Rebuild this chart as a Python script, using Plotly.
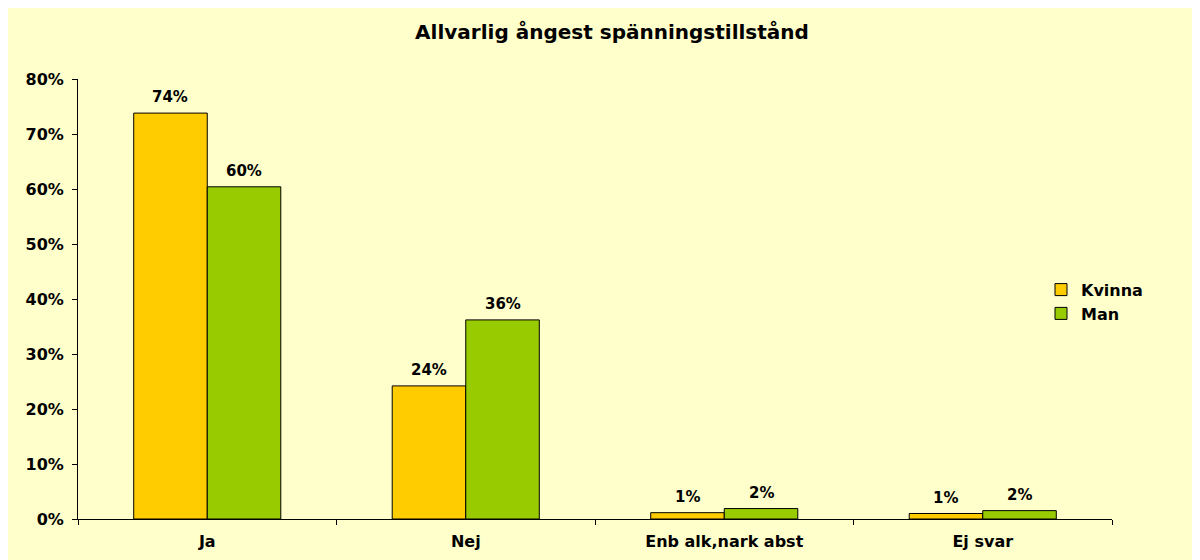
import plotly.graph_objects as go

categories = ["Ja", "Nej", "Enb alk,nark abst", "Ej svar"]
kvinna = [0.738, 0.242, 0.0115, 0.010]
man = [0.604, 0.362, 0.019, 0.0152]
series_names = ["Kvinna", "Man"]
tick_vals = [0, 0.1, 0.2, 0.3, 0.4, 0.5, 0.6, 0.7, 0.8]
title_text = "Allvarlig ångest spänningstillstånd"

FONT = "DejaVu Sans"
BG = "#FFFFCC"
colors = ["#FFCC00", "#99CC00"]

fig = go.Figure()
for name, vals, col in zip(series_names, [kvinna, man], colors):
    fig.add_trace(go.Bar(
        x=categories, y=vals, name=name,
        marker=dict(color=col, line=dict(color="black", width=1)),
        offsetgroup=name,
    ))

W, H = 1192, 552
L, R, T, B = 70, 88, 71, 41
PW = W - L - R
PH = H - T - B
BARGAP = 0.431

# value labels placed above each bar (bar centres from the group layout)
half = (1 - BARGAP) / 4
for i, (vals, off) in enumerate(zip([kvinna, man], [-half, half])):
    for j, v in enumerate(vals):
        fig.add_annotation(
            x=j + off, y=v, xref="x", yref="y",
            text=f"{v:.0%}", showarrow=False,
            yanchor="middle", yshift=16,
            font=dict(family=FONT, size=15, color="black", weight="bold"),
        )

fig.update_layout(
    width=W, height=H,
    margin=dict(l=L, r=R, t=T, b=B, autoexpand=False),
    paper_bgcolor=BG, plot_bgcolor=BG,
    barmode="group", bargap=BARGAP, bargroupgap=0,
    title=dict(text=title_text, x=(612 - 8) / W, xanchor="center",
               y=1 - (32 - 8) / H, yanchor="middle",
               font=dict(family=FONT, size=20, color="black", weight="bold")),
    legend=dict(x=(1033 - L) / PW, xanchor="left", y=(519 - 301.7) / 440, yanchor="middle",
                font=dict(family=FONT, size=16, color="black", weight="bold"),
                bgcolor="rgba(0,0,0,0)", itemwidth=30, tracegroupgap=0),
    showlegend=True,
)
fig.update_xaxes(
    showline=True, linecolor="black", linewidth=1,
    ticks="outside", ticklen=5, tickcolor="black", tickson="boundaries",
    ticklabelstandoff=8,
    tickfont=dict(family=FONT, size=16, color="black", weight="bold"),
    showgrid=False, zeroline=False,
)
fig.update_yaxes(
    range=[0, 0.8], tickvals=tick_vals, tickformat=".0%",
    showline=True, linecolor="black", linewidth=1,
    ticks="outside", ticklen=5, tickcolor="black", ticklabelstandoff=5,
    tickfont=dict(family=FONT, size=16, color="black", weight="bold"),
    showgrid=False, zeroline=False,
)

fig.write_html("out.html")
